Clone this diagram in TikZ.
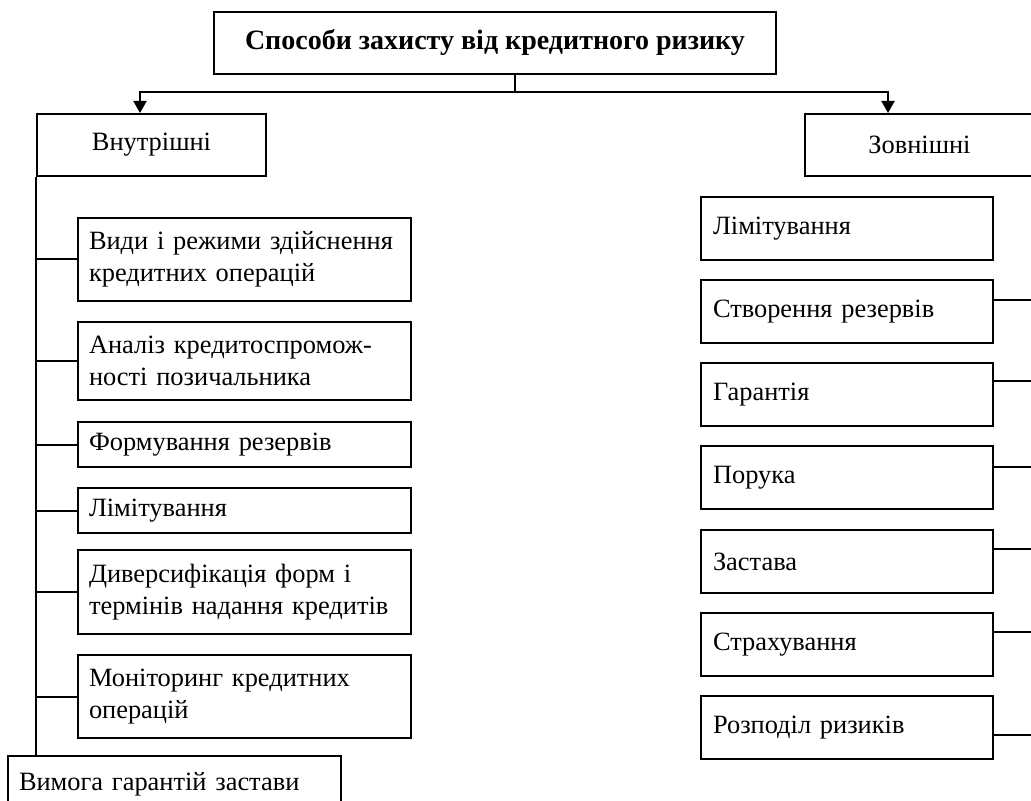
\documentclass[tikz,border=0pt]{standalone}
\usepackage{fontspec}
\setmainfont{Liberation Serif}
\usetikzlibrary{arrows.meta, calc}

\begin{document}
\begin{tikzpicture}[x=.5pt,y=-.5pt,
    every node/.style={font=\fontsize{13.2}{16}\selectfont},
    box/.style={draw,line width=1pt,rectangle,inner sep=0pt,anchor=north west},
    head/.style={box,minimum width=114.5pt,minimum height=31pt},
    lbox/.style={box,text width=155.5pt,inner xsep=5.5pt,align=left},
    rbox/.style={box,text width=134pt,inner xsep=6pt,align=left,minimum height=31.5pt},
    link/.style={line width=1pt},
    arr/.style={link,-{Triangle[width=6.5pt,length=6pt]}}]
  \useasboundingbox (0,0) rectangle (1031,801);
  \clip (0,0) rectangle (1031,801);

  % root
  \node[box,minimum width=281pt,minimum height=31pt,
        font=\fontsize{14}{16}\selectfont\bfseries] (title) at (213,11)
    {Способи захисту від кредитного ризику};
  \node[head] (inner) at (36,113) {Внутрішні};
  \node[head] (outer) at (804,113) {Зовнішні};

  \coordinate (fork) at (515,92);
  \coordinate (lft) at (140,92);
  \coordinate (rgt) at (888,92);
  \coordinate (edge) at (1031,0);
  \draw[link] (title.south -| fork) -- (fork);
  \draw[arr] (fork) -| (lft |- inner.north);
  \draw[arr] (fork) -| (rgt |- outer.north);

  % internal ways
  \foreach \t/\y/\h [count=\i] in {
      {Види і режими здійснення\\кредитних операцій}/217/41.5,
      {Аналіз кредитоспромож-\\ності позичальника}/321/39,
      {Формування резервів}/421/22.5,
      {Лімітування}/487/22.5,
      {Диверсифікація форм і\\термінів надання кредитів}/549/42,
      {Моніторинг кредитних\\операцій}/654/41.5}
    \node[lbox,minimum height=\h pt] (l\i) at (77,\y) {\t};
  \node[lbox,minimum height=28pt] (req) at (7,755) {Вимога гарантій застави};

  \draw[link] (inner.south west) -- (inner.south west |- req.north);
  \foreach \i in {1,...,6}
    \draw[link] (l\i.west -| inner.south west) -- (l\i.west);

  % external ways
  \foreach \t/\y [count=\i] in {Лімітування/196, Створення резервів/279,
      Гарантія/362, Порука/445, Застава/529, Страхування/612,
      Розподіл ризиків/695}
    \node[rbox] (r\i) at (700,\y) {\t};

  \foreach \i/\d in {2/21,3/19,4/22,5/20,6/20,7/40} {
    \coordinate (c\i) at ($(r\i.north east)+(0,\d)$);
    \draw[link] (c\i) -- (c\i -| edge);
  }
\end{tikzpicture}
\end{document}
